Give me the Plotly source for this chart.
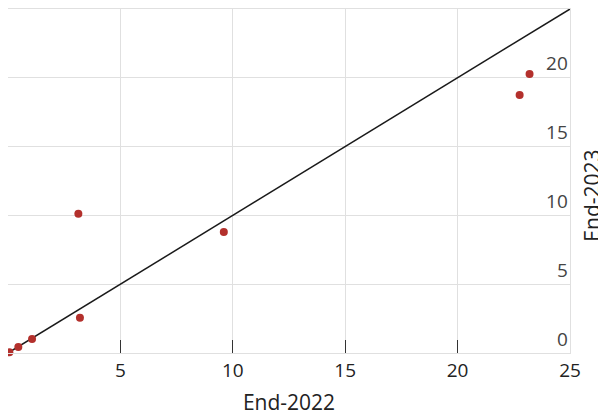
import plotly.graph_objects as go

x_2022 = [0.06, 0.46, 1.07, 3.13, 3.2, 9.6, 22.76, 23.2]
y_2023 = [0.05, 0.43, 1.01, 10.12, 2.56, 8.79, 18.75, 20.27]
line_vals = [0, 25]
x_ticks = [0, 5, 10, 15, 20, 25]
x_ticktext = ["", "5", "10", "15", "20", "25"]
y_ticks = [0, 5, 10, 15, 20]

fig = go.Figure()
fig.add_trace(go.Scatter(x=line_vals, y=line_vals, mode="lines",
                         line=dict(color="#1a1a1a", width=1.5), showlegend=False, hoverinfo="skip"))
fig.add_trace(go.Scatter(x=x_2022, y=y_2023, mode="markers",
                         marker=dict(color="#b3302c", size=8), showlegend=False, cliponaxis=False))

grid = "#e0e0e0"
fig.update_layout(
    width=606, height=415,
    margin=dict(l=0, r=44, t=1, b=70),
    paper_bgcolor="white", plot_bgcolor="white",
    font=dict(family="Open Sans, Noto Sans, sans-serif", size=19, color="#222"),
    xaxis=dict(range=[0, 25], tickvals=x_ticks, ticktext=x_ticktext, automargin=False,
               showgrid=True, gridcolor=grid, gridwidth=1,
               showline=True, linecolor=grid, linewidth=1, mirror=True,
               ticks="inside", ticklen=13, tickcolor="#333", tickwidth=1.2,
               ticklabeloverflow="allow",
               zeroline=False, title=dict(text="End-2022", standoff=13, font=dict(size=21))),
    yaxis=dict(range=[0, 25], tickvals=y_ticks, side="right", automargin=False,
               showgrid=True, gridcolor=grid, gridwidth=1,
               showline=True, linecolor=grid, linewidth=1, mirror=True,
               ticks="", ticklabelposition="inside", ticklabelshift=-14,
               ticklabelstandoff=3, ticklabeloverflow="allow",
               zeroline=False),
    annotations=[dict(text="End-2023", textangle=-90, xref="paper", yref="paper",
                      x=1, y=0.456, xshift=22.5, xanchor="center", yanchor="middle",
                      showarrow=False, font=dict(size=21))],
)
fig.write_html("out.html")
